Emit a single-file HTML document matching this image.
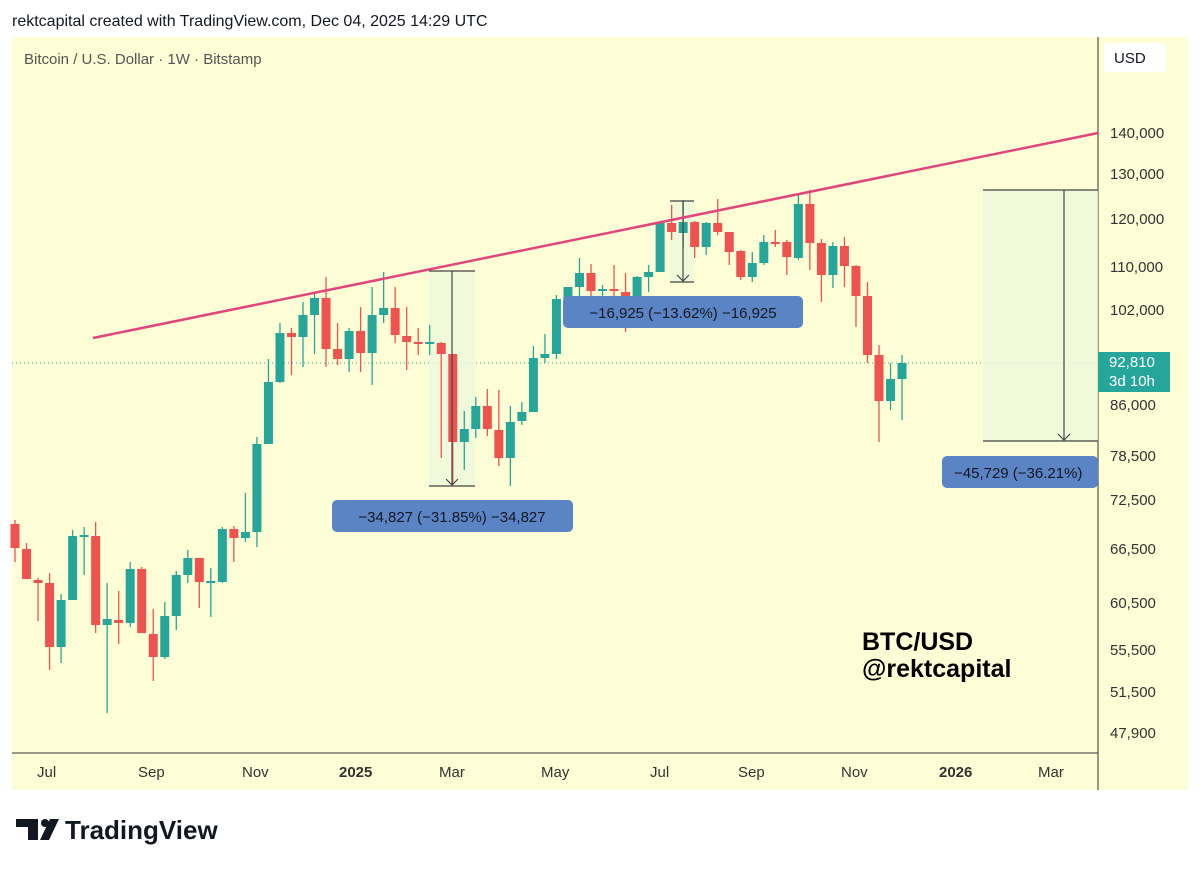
<!DOCTYPE html>
<html><head><meta charset="utf-8"><style>
body{margin:0;width:1200px;height:869px;background:#fff;font-family:"Liberation Sans",sans-serif;overflow:hidden;position:relative}
.t{position:absolute;white-space:nowrap}
</style></head><body>
<div class="t" style="left:12px;top:13px;font-size:16px;color:#131722">rektcapital created with TradingView.com, Dec 04, 2025 14:29 UTC</div>
<svg id="s" width="1200" height="869" style="position:absolute;left:0;top:0">
<rect x="12" y="37" width="1176" height="753" fill="#fdfdd6"/>
<line x1="1098" y1="37" x2="1098" y2="790" stroke="#333" stroke-width="1"/>
<line x1="12" y1="753" x2="1098" y2="753" stroke="#333" stroke-width="1"/>
<rect x="1104" y="43" width="62" height="29" rx="4" fill="#fff"/>
<text x="1114" y="63" font-size="15" fill="#131722">USD</text>
<text x="24" y="64" font-size="15" fill="#555">Bitcoin / U.S. Dollar · 1W · Bitstamp</text>
<g font-size="15" fill="#333">
<text x="1110" y="138">140,000</text><text x="1110" y="179">130,000</text><text x="1110" y="224">120,000</text><text x="1110" y="272">110,000</text><text x="1110" y="315">102,000</text><text x="1110" y="410">86,000</text><text x="1110" y="461">78,500</text><text x="1110" y="505">72,500</text><text x="1110" y="554">66,500</text><text x="1110" y="608">60,500</text><text x="1110" y="655">55,500</text><text x="1110" y="697">51,500</text><text x="1110" y="738">47,900</text>
<text x="37" y="777">Jul</text><text x="138" y="777">Sep</text><text x="242" y="777">Nov</text><text x="339" y="777" font-weight="bold">2025</text><text x="439" y="777">Mar</text><text x="541" y="777">May</text><text x="650" y="777">Jul</text><text x="738" y="777">Sep</text><text x="841" y="777">Nov</text><text x="939" y="777" font-weight="bold">2026</text><text x="1038" y="777">Mar</text>
</g>
<line x1="12" y1="363" x2="1098" y2="363" stroke="#26a69a" stroke-width="1" stroke-dasharray="1,3"/>
<rect x="1098" y="352" width="72" height="40" fill="#26a69a"/>
<text x="1109" y="367" font-size="15" fill="#fff">92,810</text><text x="1109" y="386" font-size="15" fill="#fff">3d 10h</text>
<rect x="429" y="271" width="46" height="215" fill="#eef7dc" opacity="0.8"/>
<rect x="670" y="201" width="24" height="81" fill="#eef7dc" opacity="0.8"/>
<rect x="983" y="190" width="115" height="251" fill="#eef7dc" opacity="0.8"/>
<g id="c"></g>
<g stroke="#444" stroke-width="1.2" fill="none">
<line x1="429" y1="271" x2="475" y2="271"/><line x1="429" y1="486" x2="475" y2="486"/><line x1="452" y1="271" x2="452" y2="485"/><polyline points="446,479 452,485 458,479"/>
<line x1="670" y1="201" x2="694" y2="201"/><line x1="670" y1="282" x2="694" y2="282"/><line x1="683" y1="201" x2="683" y2="281"/><polyline points="677,275 683,281 689,275"/>
<line x1="983" y1="190" x2="1098" y2="190"/><line x1="983" y1="441" x2="1098" y2="441"/><line x1="1064" y1="190" x2="1064" y2="440"/><polyline points="1058,434 1064,440 1070,434"/>
</g>
<line x1="93" y1="338" x2="1098" y2="133" stroke="#e0457b" stroke-width="2.5"/>
<rect x="332" y="500" width="241" height="32" rx="5" fill="#5b84c4"/>
<text x="452" y="522" font-size="15" fill="#131722" text-anchor="middle">−34,827 (−31.85%) −34,827</text>
<rect x="563" y="296" width="240" height="32" rx="5" fill="#5b84c4"/>
<text x="683" y="318" font-size="15" fill="#131722" text-anchor="middle">−16,925 (−13.62%) −16,925</text>
<rect x="942" y="456" width="156" height="32" rx="5" fill="#5b84c4"/>
<svg x="942" y="456" width="156" height="32"><text x="12" y="22" font-size="15" fill="#131722">−45,729 (−36.21%)</text></svg>
<text x="862" y="650" font-size="25" font-weight="bold" fill="#000">BTC/USD</text>
<text x="862" y="677" font-size="25" font-weight="bold" fill="#000">@rektcapital</text>
<g fill="#131722"><rect x="16" y="819" width="22" height="8"/><rect x="28" y="819" width="10" height="21"/><circle cx="45" cy="823" r="4"/><polygon points="50,819 59,819 49,840 40,840"/></g>
<text x="65" y="839" font-size="26" font-weight="bold" fill="#131722">TradingView</text>
</svg>
<script>
var d=[[524,548,520,562],[549,579,543,579],[580,583,578,621],[583,647,573,670],[647,600,594,663],[600,536,530,600],[536,535,527,575],[536,625,522,633],[625,619,583,713],[620,623,591,644],[623,569,562,627],[569,633,567,633],[634,657,609,681],[657,616,602,659],[616,575,571,630],[575,558,550,583],[558,582,558,608],[582,581,568,617],[582,529,527,583],[529,538,526,562],[538,532,493,542],[532,444,437,547],[444,382,359,444],[382,333,323,383],[333,337,328,375],[337,315,302,367],[315,298,293,354],[298,349,277,367],[349,359,323,365],[359,331,328,372],[331,353,307,372],[353,315,287,385],[315,308,272,323],[308,335,287,343],[336,342,307,370],[342,343,328,355],[343,342,325,355],[343,354,342,458],[354,442,354,485],[442,429,411,470],[429,406,397,438],[406,429,389,436],[430,458,390,466],[458,422,406,486],[421,412,402,425],[412,358,346,412],[358,354,334,363],[354,299,295,359],[299,287,287,300],[287,273,258,300],[273,291,264,300],[290,289,285,300],[289,290,265,303],[292,318,273,332],[318,277,276,318],[277,272,265,292],[272,223,222,272],[223,232,205,240],[233,222,200,248],[222,247,221,258],[247,223,222,255],[223,232,199,235],[232,252,232,265],[251,277,250,280],[277,263,252,282],[263,242,235,265],[242,243,230,247],[242,257,240,275],[258,204,195,260],[204,243,190,270],[243,275,239,302],[275,246,242,288],[246,266,237,287],[266,296,265,327],[296,355,282,363],[355,401,345,442],[401,379,363,410],[379,363,355,420]];
var g=document.getElementById('c'),h='';
d.forEach(function(c,i){var x=15+i*11.52,up=c[1]<c[0],col=up?'#26a69a':'#ef5350',t=Math.min(c[0],c[1]),b=Math.max(c[0],c[1]);if(b-t<2){b=t+2}
h+='<line x1="'+x+'" x2="'+x+'" y1="'+c[2]+'" y2="'+c[3]+'" stroke="'+col+'" stroke-width="1.3"/><rect x="'+(x-4.5)+'" y="'+t+'" width="9" height="'+(b-t)+'" fill="'+col+'"/>';});
g.innerHTML=h;
</script>
</body></html>
